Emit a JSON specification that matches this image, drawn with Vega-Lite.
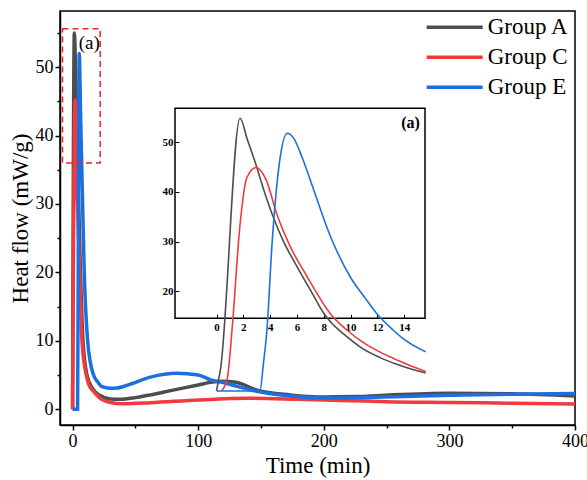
{
  "$schema": "https://vega.github.io/schema/vega-lite/v6.json",
  "width": 515,
  "height": 414,
  "autosize": "none",
  "padding": {"left": 60, "top": 11, "right": 12, "bottom": 55},
  "background": "white",
  "config": {
    "view": {"stroke": "black", "strokeWidth": 1.5},
    "font": "Liberation Serif",
    "axis": {
      "grid": false,
      "labelFont": "Liberation Serif",
      "labelFontSize": 18,
      "labelColor": "black",
      "titleFont": "Liberation Serif",
      "titleFontSize": 23,
      "titleFontWeight": "normal",
      "titleColor": "black",
      "domainColor": "black",
      "domainWidth": 1.5,
      "tickColor": "black",
      "tickWidth": 1.5
    }
  },
  "datasets": {
    "main": [
      {"g": "Group A", "t": 0, "v": 0},
      {"g": "Group A", "t": 1.4, "v": 55},
      {"g": "Group A", "t": 3, "v": 44},
      {"g": "Group A", "t": 4, "v": 35.5},
      {"g": "Group A", "t": 5, "v": 29},
      {"g": "Group A", "t": 6.3, "v": 20},
      {"g": "Group A", "t": 8.3, "v": 10},
      {"g": "Group A", "t": 11.5, "v": 5},
      {"g": "Group A", "t": 16, "v": 3},
      {"g": "Group A", "t": 22, "v": 2},
      {"g": "Group A", "t": 30, "v": 1.5},
      {"g": "Group A", "t": 38, "v": 1.45},
      {"g": "Group A", "t": 50, "v": 1.7},
      {"g": "Group A", "t": 62, "v": 2.1},
      {"g": "Group A", "t": 80, "v": 2.8},
      {"g": "Group A", "t": 100, "v": 3.55},
      {"g": "Group A", "t": 110, "v": 3.95},
      {"g": "Group A", "t": 120, "v": 4.1},
      {"g": "Group A", "t": 130, "v": 3.95},
      {"g": "Group A", "t": 147, "v": 2.8},
      {"g": "Group A", "t": 173, "v": 2.1},
      {"g": "Group A", "t": 200, "v": 1.8},
      {"g": "Group A", "t": 226, "v": 1.85},
      {"g": "Group A", "t": 253, "v": 2.1},
      {"g": "Group A", "t": 300, "v": 2.35},
      {"g": "Group A", "t": 350, "v": 2.25},
      {"g": "Group A", "t": 400, "v": 1.95},
      {"g": "Group C", "t": 0, "v": 0},
      {"g": "Group C", "t": 2.1, "v": 45.2},
      {"g": "Group C", "t": 3, "v": 38},
      {"g": "Group C", "t": 4, "v": 30},
      {"g": "Group C", "t": 5.6, "v": 20},
      {"g": "Group C", "t": 7.5, "v": 10},
      {"g": "Group C", "t": 9, "v": 7},
      {"g": "Group C", "t": 10.9, "v": 5},
      {"g": "Group C", "t": 13, "v": 3.6},
      {"g": "Group C", "t": 16.7, "v": 2.6},
      {"g": "Group C", "t": 22, "v": 1.6},
      {"g": "Group C", "t": 30, "v": 1.0},
      {"g": "Group C", "t": 40, "v": 0.8},
      {"g": "Group C", "t": 62, "v": 0.95},
      {"g": "Group C", "t": 100, "v": 1.35},
      {"g": "Group C", "t": 140, "v": 1.6},
      {"g": "Group C", "t": 180, "v": 1.45},
      {"g": "Group C", "t": 221, "v": 1.26},
      {"g": "Group C", "t": 250, "v": 1.1},
      {"g": "Group C", "t": 300, "v": 1.0},
      {"g": "Group C", "t": 350, "v": 0.88},
      {"g": "Group C", "t": 400, "v": 0.77},
      {"g": "Group E", "t": 0, "v": 0},
      {"g": "Group E", "t": 4, "v": 0},
      {"g": "Group E", "t": 4.6, "v": 25},
      {"g": "Group E", "t": 5.3, "v": 52},
      {"g": "Group E", "t": 6.5, "v": 42},
      {"g": "Group E", "t": 8, "v": 30},
      {"g": "Group E", "t": 9.3, "v": 20},
      {"g": "Group E", "t": 12, "v": 10},
      {"g": "Group E", "t": 14, "v": 7},
      {"g": "Group E", "t": 16.7, "v": 5},
      {"g": "Group E", "t": 20, "v": 4},
      {"g": "Group E", "t": 23.4, "v": 3.3},
      {"g": "Group E", "t": 30, "v": 3.07},
      {"g": "Group E", "t": 35, "v": 3.1},
      {"g": "Group E", "t": 45, "v": 3.6},
      {"g": "Group E", "t": 62, "v": 4.7},
      {"g": "Group E", "t": 83, "v": 5.25},
      {"g": "Group E", "t": 100, "v": 5.0},
      {"g": "Group E", "t": 110, "v": 4.3},
      {"g": "Group E", "t": 120, "v": 3.9},
      {"g": "Group E", "t": 127, "v": 3.55},
      {"g": "Group E", "t": 150, "v": 2.5},
      {"g": "Group E", "t": 175, "v": 1.9},
      {"g": "Group E", "t": 200, "v": 1.65},
      {"g": "Group E", "t": 240, "v": 1.75},
      {"g": "Group E", "t": 300, "v": 2.05},
      {"g": "Group E", "t": 350, "v": 2.2},
      {"g": "Group E", "t": 400, "v": 2.3}
    ],
    "inset": [
      {"g": "Group A", "t": 0, "v": 0},
      {"g": "Group A", "t": 0.1, "v": 1.5},
      {"g": "Group A", "t": 0.3, "v": 4.5},
      {"g": "Group A", "t": 1.75, "v": 54.8},
      {"g": "Group A", "t": 2.3, "v": 50.5},
      {"g": "Group A", "t": 2.9, "v": 45.8},
      {"g": "Group A", "t": 3.5, "v": 40.6},
      {"g": "Group A", "t": 4.25, "v": 34.8},
      {"g": "Group A", "t": 5.0, "v": 30},
      {"g": "Group A", "t": 6.0, "v": 25},
      {"g": "Group A", "t": 7.1, "v": 19.8},
      {"g": "Group A", "t": 8.05, "v": 15.4},
      {"g": "Group A", "t": 8.46, "v": 14.0},
      {"g": "Group A", "t": 9.5, "v": 11.4},
      {"g": "Group A", "t": 10.9, "v": 8.5},
      {"g": "Group A", "t": 12.2, "v": 6.7},
      {"g": "Group A", "t": 13.4, "v": 5.4},
      {"g": "Group A", "t": 14.5, "v": 4.4},
      {"g": "Group A", "t": 15.6, "v": 3.6},
      {"g": "Group C", "t": 0.37, "v": 0},
      {"g": "Group C", "t": 0.8, "v": 2.5},
      {"g": "Group C", "t": 1.16, "v": 12.5},
      {"g": "Group C", "t": 1.75, "v": 33.4},
      {"g": "Group C", "t": 2.25, "v": 42.8},
      {"g": "Group C", "t": 2.95, "v": 44.9},
      {"g": "Group C", "t": 3.7, "v": 42.4},
      {"g": "Group C", "t": 4.5, "v": 35.5},
      {"g": "Group C", "t": 5.5, "v": 29},
      {"g": "Group C", "t": 6.75, "v": 23},
      {"g": "Group C", "t": 8.1, "v": 17},
      {"g": "Group C", "t": 8.46, "v": 15.6},
      {"g": "Group C", "t": 9.7, "v": 12.3},
      {"g": "Group C", "t": 10.9, "v": 9.8},
      {"g": "Group C", "t": 12.2, "v": 7.8},
      {"g": "Group C", "t": 13.4, "v": 6.3},
      {"g": "Group C", "t": 14.5, "v": 5.0},
      {"g": "Group C", "t": 15.6, "v": 3.9},
      {"g": "Group E", "t": 0, "v": 0},
      {"g": "Group E", "t": 3.23, "v": 0},
      {"g": "Group E", "t": 3.5, "v": 5.6},
      {"g": "Group E", "t": 3.75, "v": 12},
      {"g": "Group E", "t": 4.15, "v": 30},
      {"g": "Group E", "t": 4.7, "v": 46.1},
      {"g": "Group E", "t": 5.28, "v": 51.8},
      {"g": "Group E", "t": 5.75, "v": 50.8},
      {"g": "Group E", "t": 6.4, "v": 46.8},
      {"g": "Group E", "t": 7.3, "v": 40},
      {"g": "Group E", "t": 8.46, "v": 31.3},
      {"g": "Group E", "t": 10.0, "v": 22.8},
      {"g": "Group E", "t": 11.1, "v": 18.6},
      {"g": "Group E", "t": 12.06, "v": 15.2},
      {"g": "Group E", "t": 13.1, "v": 12.4},
      {"g": "Group E", "t": 14.07, "v": 10.2},
      {"g": "Group E", "t": 15.6, "v": 7.85}
    ]
  },
  "layer": [
    {
      "data": {"name": "main"},
      "mark": {"type": "line", "strokeWidth": 3.5, "interpolate": "monotone"},
      "encoding": {
        "x": {
          "field": "t", "type": "quantitative",
          "scale": {"domain": [-10, 400], "nice": false, "zero": false},
          "axis": {"values": [0, 100, 200, 300, 400], "title": "Time (min)", "tickSize": 5, "labelPadding": 2, "titlePadding": 4, "labelFlush": false}
        },
        "y": {
          "field": "v", "type": "quantitative",
          "scale": {"domain": [-2.3, 58.2], "nice": false, "zero": false},
          "axis": {"values": [0, 10, 20, 30, 40, 50], "title": "Heat flow (mW/g)", "tickSize": 5, "labelPadding": 2, "titlePadding": 3}
        },
        "color": {
          "field": "g", "type": "nominal",
          "scale": {"domain": ["Group A", "Group C", "Group E"], "range": ["#4d4d4d", "#f03a3e", "#1c6fe0"]},
          "legend": {
            "title": null,
            "orient": "none",
            "legendX": 394.7,
            "legendY": 2.3,
            "padding": 0,
            "symbolType": "M-3.5,0H1.1667",
            "symbolSize": 576,
            "symbolStrokeWidth": 3.5,
            "labelFont": "Liberation Serif",
            "labelFontSize": 23,
            "labelColor": "black",
            "labelOffset": 5,
            "rowPadding": 4
          }
        }
      }
    },
    {
      "data": {"values": [{}]},
      "layer": [
        {
          "mark": {"type": "rect", "filled": false, "stroke": "#e8262a", "strokeWidth": 1.5, "strokeDash": [6, 4]},
          "encoding": {
            "x": {
              "datum": -8, "type": "quantitative",
              "scale": {"domain": [-10, 400], "nice": false, "zero": false},
              "axis": {"orient": "bottom", "values": [50, 150, 250, 350], "labels": false, "domain": false, "title": null, "tickSize": 3}
            },
            "x2": {"datum": 22},
            "y": {
              "datum": 36, "type": "quantitative",
              "scale": {"domain": [-2.3, 58.2], "nice": false, "zero": false},
              "axis": {"orient": "left", "values": [5, 15, 25, 35, 45, 55], "labels": false, "domain": false, "title": null, "tickSize": 3}
            },
            "y2": {"datum": 55.6}
          }
        },
        {
          "mark": {"type": "text", "text": "(a)", "font": "Liberation Serif", "fontSize": 19, "align": "center", "baseline": "middle", "color": "black"},
          "encoding": {
            "x": {"datum": 13.3, "type": "quantitative"},
            "y": {"datum": 53.5, "type": "quantitative"}
          }
        }
      ]
    },
    {
      "layer": [
        {
          "data": {"values": [{}]},
          "mark": {"type": "rect", "filled": false, "stroke": "black", "strokeWidth": 1.5},
          "encoding": {
            "x": {
              "datum": -3.1, "type": "quantitative",
              "scale": {"domain": [-11.68, 26.74], "nice": false, "zero": false},
              "axis": {"orient": "bottom", "offset": -106.7, "values": [0, 2, 4, 6, 8, 10, 12, 14], "domain": false, "title": null, "labelFontSize": 11, "labelFontWeight": "bold", "tickSize": -4, "tickWidth": 1, "labelPadding": 7}
            },
            "x2": {"datum": 15.55},
            "y": {
              "datum": 14.6, "type": "quantitative",
              "scale": {"domain": [-6.84, 76.35], "nice": false, "zero": false},
              "axis": {"orient": "left", "offset": -115, "values": [20, 30, 40, 50], "domain": false, "title": null, "labelFontSize": 11, "labelFontWeight": "bold", "tickSize": -4, "tickWidth": 1, "labelPadding": 6}
            },
            "y2": {"datum": 56.8}
          }
        },
        {
          "data": {"name": "inset"},
          "mark": {"type": "line", "strokeWidth": 1.6, "interpolate": "monotone"},
          "encoding": {
            "x": {"field": "t", "type": "quantitative"},
            "y": {"field": "v", "type": "quantitative"},
            "color": {"field": "g", "type": "nominal"}
          }
        },
        {
          "data": {"values": [{}]},
          "mark": {"type": "text", "text": "(a)", "font": "Liberation Serif", "fontSize": 16, "fontWeight": "bold", "align": "right", "baseline": "middle", "color": "black"},
          "encoding": {
            "x": {"datum": 15.17, "type": "quantitative"},
            "y": {"datum": 53.8, "type": "quantitative"}
          }
        }
      ]
    }
  ],
  "resolve": {"scale": {"x": "independent", "y": "independent"}}
}
